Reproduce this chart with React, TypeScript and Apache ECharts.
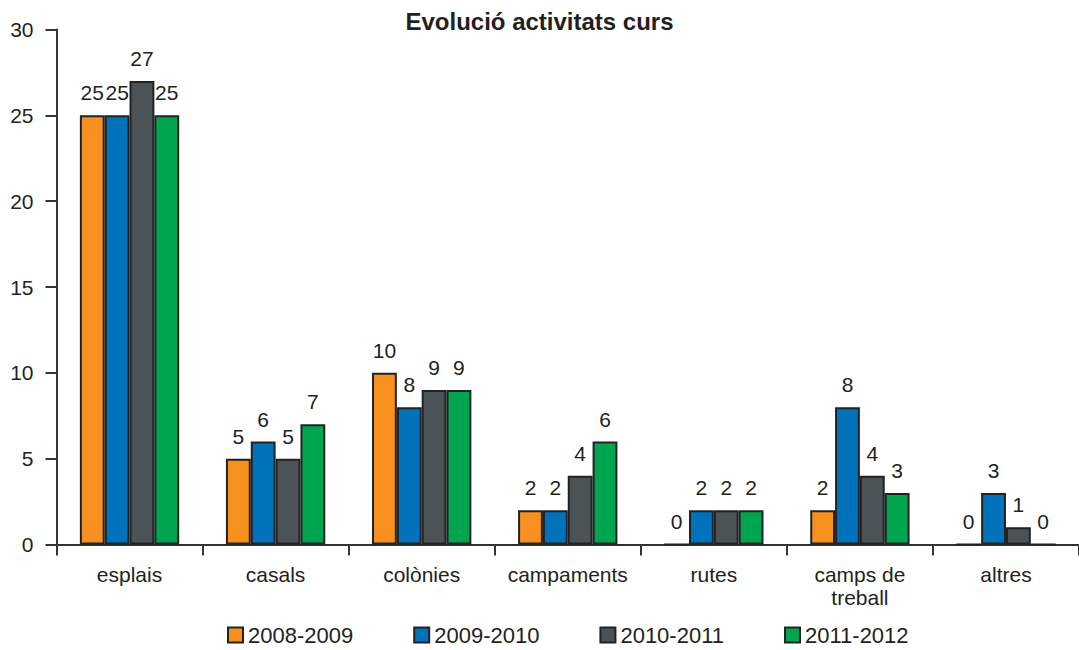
import React, { useEffect, useRef } from "react";
import * as echarts from "echarts";

const categories = ["esplais", "casals", "colònies", "campaments", "rutes", "camps de treball", "altres"];
const seriesNames = ["2008-2009", "2009-2010", "2010-2011", "2011-2012"];
const s2008 = [25, 5, 10, 2, 0, 2, 0];
const s2009 = [25, 6, 8, 2, 2, 8, 3];
const s2010 = [27, 5, 9, 4, 2, 4, 1];
const s2011 = [25, 7, 9, 6, 2, 3, 0];
const colors = ["#F7901E", "#0072BC", "#4B5356", "#00A54F"];

const FONT = "'Liberation Sans', Arial, sans-serif";
const TXT = "#231F20";

export default function App() {
  const ref = useRef<HTMLDivElement>(null);
  useEffect(() => {
    if (!ref.current) return;
    const chart = echarts.init(ref.current, undefined, { renderer: "svg" });
    const values = [s2008, s2009, s2010, s2011];
    chart.setOption({
      animation: false,
      textStyle: { fontFamily: FONT, color: TXT },
      title: {
        text: "Evolució activitats curs",
        left: "center",
        top: 4,
        textStyle: { fontFamily: FONT, fontSize: 24, fontWeight: "bold", color: TXT },
      },
      legend: {
        left: 222,
        top: 619,
        itemWidth: 15,
        itemHeight: 15,
        itemGap: 60,
        icon: "rect",
        textStyle: { fontFamily: FONT, fontSize: 22, color: TXT },
        data: seriesNames,
      },
      grid: { left: 56.5, top: 29.5, right: -3, bottom: 105.5 },
      xAxis: {
        type: "category",
        data: categories,
        axisLine: { lineStyle: { color: "#333", width: 2 } },
        axisTick: { show: true, length: 11, lineStyle: { color: "#333", width: 2 } },
        axisLabel: {
          fontFamily: FONT,
          fontSize: 21,
          color: TXT,
          margin: 18,
          lineHeight: 23,
          interval: 0,
          formatter: (v: string) => v.replace(" de ", " de\n"),
        },
      },
      yAxis: {
        type: "value",
        min: 0,
        max: 30,
        interval: 5,
        splitLine: { show: false },
        axisLine: { show: true, lineStyle: { color: "#333", width: 2 } },
        axisTick: { show: true, length: 11, lineStyle: { color: "#333", width: 2 } },
        axisLabel: { fontFamily: FONT, fontSize: 21, color: TXT, margin: 23 },
      },
      series: seriesNames.map((name, i) => ({
        name,
        type: "bar",
        data: values[i],
        barGap: "0%",
        barCategoryGap: "32%",
        itemStyle: { color: colors[i], borderColor: "#222", borderWidth: 2 },
        label: {
          show: true,
          position: "top",
          distance: 12,
          fontFamily: FONT,
          fontSize: 21,
          color: TXT,
        },
      })),
    });
    return () => chart.dispose();
  }, []);
  return (
    <div
      ref={ref}
      style={{ position: "absolute", left: 0, top: 0, width: 1079, height: 650, background: "#fff" }}
    />
  );
}
